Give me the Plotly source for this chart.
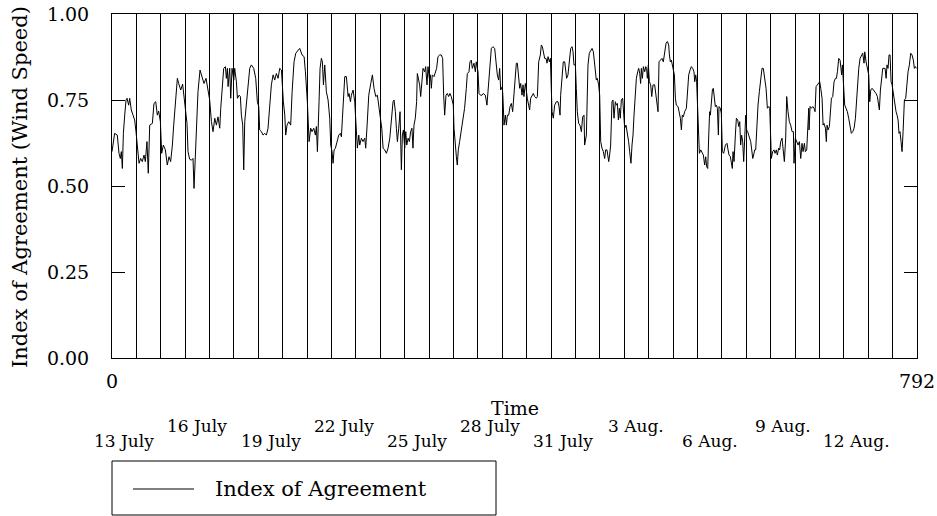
import plotly.graph_objects as go

# ---- data (hour since start, index of agreement) ----
hours = [0, 2.6, 5.2, 6.9, 8.2, 9.2, 10.2, 11.2, 12.5, 13.8, 14.8, 16.4, 17.4, 19.0, 20.7, 22.3, 23.6,
         24.9, 26.6, 28.2, 29.8, 31.5, 32.8, 34.4, 35.7, 37.1, 39.7, 41.3, 43.0, 44.6, 45.9, 47.6,
         48.9, 50.5, 52.5, 54.4, 56.1, 57.7, 59.4, 60.7, 62.6, 64.3, 65.6, 67.6, 69.5, 71.2,
         72.5, 73.8, 74.8, 76.4, 78.1, 79.7, 80.7, 82.0, 83.3, 84.6, 86.6, 88.6, 90.5, 92.5, 94.5,
         96.1, 97.8, 99.4, 101.1, 102.7, 104.3, 106.0, 107.0, 108.6, 109.9, 111.6, 112.5, 113.5,
         114.2, 115.8, 116.8, 118.1, 119.8, 120.7, 122.4, 123.4, 125.0, 126.3, 127.3, 128.6,
         129.6, 130.6, 131.9, 133.2, 135.5, 137.1, 139.4, 141.4, 143.0, 144.4, 145.3, 147.0,
         148.6, 150.3, 151.9, 153.5, 155.2, 156.8, 158.5, 160.1, 161.7, 163.4, 165.0, 166.7,
         168.6, 170.0, 170.9, 172.2, 173.9, 175.8, 177.2, 179.1, 180.8, 183.1, 184.7, 187.0,
         189.0, 190.3, 192.2, 193.9, 195.5, 196.8, 198.5, 200.1, 201.1, 202.1, 202.7, 203.7,
         204.7, 206.0, 207.0, 208.0, 209.3, 210.9, 212.6, 214.2, 215.2, 216.5, 217.5, 218.5,
         219.8, 221.4, 223.1, 224.7, 225.7, 226.7, 228.0, 229.0, 230.6, 232.3, 233.2, 234.6,
         235.5, 237.2, 238.8, 240.5, 241.4, 242.8, 243.7, 245.4, 247.0, 248.7, 249.6, 251.0,
         252.6, 254.6, 256.2, 257.8, 259.5, 261.1, 262.8, 264.4, 265.4, 266.7, 268.3, 270.0,
         271.6, 273.3, 274.9, 276.5, 277.5, 278.8, 279.8, 280.8, 282.1, 283.4, 284.7, 285.7,
         286.7, 288.0, 289.0, 290.0, 291.3, 292.6, 293.8, 295.1, 296.1, 297.1, 298.4, 299.7,
         300.4, 301.7, 302.7, 303.7, 305.0, 306.0, 307.6, 308.6, 309.9, 310.9, 312.2, 313.2,
         314.2, 315.1, 316.8, 318.1, 319.4, 320.7, 322.4, 324.0, 325.3, 326.3, 327.3, 328.6,
         329.9, 331.2, 332.5, 333.8, 334.8, 335.8, 336.5, 337.8, 338.8, 339.7, 340.7, 342.0,
         343.0, 344.3, 345.6, 346.9, 348.6, 349.6, 351.2, 352.2, 353.5, 354.5, 356.1, 357.5,
         358.4, 360.1, 361.1, 362.4, 364.0, 365.3, 367.3, 368.9, 369.9, 371.6, 373.2, 374.8,
         376.5, 377.8, 379.1, 380.4, 381.4, 382.4, 384.0, 384.7, 385.7, 387.0, 388.0, 389.0,
         390.3, 391.6, 392.9, 394.2, 395.2, 396.2, 397.8, 398.8, 400.1, 401.1, 402.1, 403.4,
         404.4, 405.3, 406.7, 407.6, 408.6, 409.9, 410.9, 411.9, 413.2, 414.5, 415.8, 417.5,
         418.5, 419.8, 421.4, 422.4, 423.4, 424.7, 425.7, 427.0, 428.0, 429.0, 430.3, 431.3,
         432.2, 432.9, 434.2, 435.5, 437.2, 438.8, 439.8, 440.8, 441.4, 442.7, 444.0, 445.4,
         446.3, 447.3, 448.6, 450.0, 451.3, 452.6, 453.6, 454.5, 455.9, 456.8, 457.8, 459.1,
         460.4, 461.8, 463.1, 464.4, 465.0, 466.7, 468.3, 469.6, 471.0, 472.3, 473.6, 474.9,
         476.5, 477.5, 478.8, 479.8, 480.8, 482.1, 483.4, 484.7, 485.7, 487.0, 488.0, 488.7,
         489.6, 490.6, 491.9, 492.9, 493.9, 495.2, 496.2, 497.2, 498.2, 499.2, 500.1, 501.1,
         502.4, 503.4, 504.4, 505.7, 507.0, 508.3, 509.3, 510.6, 511.6, 512.6, 513.6, 514.9,
         515.9, 517.2, 518.2, 519.2, 520.1, 520.8, 521.8, 522.8, 524.1, 525.1, 526.0, 526.7,
         527.7, 528.7, 530.0, 531.0, 532.3, 533.9, 534.9, 536.2, 537.2, 538.2, 539.5, 541.1,
         542.4, 543.8, 545.1, 546.4, 547.7, 548.4, 549.3, 550.3, 551.3, 552.3, 553.3, 554.3,
         555.2, 556.9, 557.9, 559.2, 560.2, 561.1, 562.1, 563.4, 565.1, 566.1, 567.4, 568.7,
         570.0, 571.3, 572.6, 573.3, 574.3, 575.2, 575.9, 576.9, 577.9, 579.2, 580.5, 581.8,
         583.1, 584.1, 585.1, 586.1, 587.1, 588.0, 588.7, 589.7, 590.7, 591.6, 592.6, 593.6,
         594.6, 595.6, 596.6, 597.2, 598.5, 599.5, 600.5, 601.8, 603.5, 605.1, 606.1, 607.1,
         608.4, 609.4, 610.3, 611.0, 612.0, 613.3, 614.3, 615.6, 616.6, 617.6, 618.5, 619.5,
         620.5, 621.5, 622.5, 623.5, 624.4, 625.4, 626.4, 627.4, 628.4, 629.4, 630.4, 631.3,
         632.3, 633.3, 634.3, 635.6, 636.9, 638.2, 639.5, 640.8, 642.2, 643.5, 644.8, 646.1,
         647.1, 648.1, 648.7, 650.0, 651.3, 652.3, 653.6, 654.6, 655.9, 656.9, 657.9, 659.2,
         660.5, 661.5, 662.8, 663.8, 665.1, 666.4, 667.7, 669.1, 670.4, 671.0, 672.3, 673.6,
         675.0, 676.3, 677.6, 678.9, 679.9, 681.2, 682.2, 683.5, 684.5, 685.5, 685.8, 686.8,
         688.1, 689.4, 690.7, 691.7, 692.7, 694.0, 695.3, 696.3, 697.3, 698.6, 699.6, 700.5,
         701.9, 702.8, 703.5, 704.5, 705.8, 706.8, 707.8, 709.1, 710.4, 711.7, 712.7, 713.7,
         715.0, 716.3, 717.3, 717.9, 718.6, 719.6, 720.9, 722.2, 723.5, 724.8, 726.1, 727.4,
         728.8, 730.1, 731.4, 732.4, 733.3, 734.7, 736.0, 737.3, 738.6, 739.9, 740.6, 741.9,
         743.2, 744.5, 745.5, 746.5, 747.8, 749.1, 750.4, 751.7, 753.0, 754.0, 755.0, 756.0,
         757.0, 758.3, 759.6, 760.6, 761.6, 762.5, 763.5, 764.5, 765.5, 766.5, 767.5, 768.8,
         770.1, 771.4, 772.4, 773.4, 774.3, 775.3, 776.3, 777.3, 778.3, 779.6, 780.9, 781.9,
         783.2, 784.5, 785.8, 787.1, 788.4, 789.4, 790.4, 791.4]

agreement = [0.600, 0.653, 0.648, 0.595, 0.580, 0.600, 0.551, 0.653, 0.706, 0.750, 0.755, 0.735, 0.755, 0.721, 0.706, 0.692, 0.658,
             0.619, 0.566, 0.580, 0.571, 0.590, 0.571, 0.629, 0.537, 0.677, 0.682, 0.740, 0.745, 0.706, 0.718, 0.687,
             0.595, 0.619, 0.605, 0.561, 0.585, 0.571, 0.619, 0.677, 0.755, 0.813, 0.798, 0.779, 0.796, 0.755,
             0.706, 0.682, 0.600, 0.578, 0.575, 0.580, 0.493, 0.575, 0.682, 0.774, 0.837, 0.813, 0.798, 0.813, 0.784,
             0.750, 0.687, 0.658, 0.697, 0.677, 0.701, 0.668, 0.726, 0.794, 0.842, 0.847, 0.813, 0.842,
             0.789, 0.842, 0.755, 0.842, 0.808, 0.842, 0.803, 0.755, 0.764, 0.760, 0.706, 0.677,
             0.547, 0.687, 0.735, 0.774, 0.842, 0.852, 0.842, 0.813, 0.745, 0.730, 0.663, 0.658,
             0.648, 0.653, 0.648, 0.668, 0.745, 0.794, 0.823, 0.808, 0.827, 0.813, 0.842, 0.837,
             0.745, 0.706, 0.648, 0.677, 0.687, 0.677, 0.774, 0.861, 0.886, 0.895, 0.900, 0.881,
             0.876, 0.832, 0.745, 0.629, 0.668, 0.658, 0.668, 0.648, 0.673, 0.600, 0.687, 0.745,
             0.842, 0.871, 0.861, 0.794, 0.852, 0.774, 0.750, 0.697, 0.619, 0.600, 0.566, 0.605,
             0.610, 0.629, 0.648, 0.653, 0.643, 0.697, 0.774, 0.818, 0.818, 0.760, 0.769, 0.745,
             0.764, 0.779, 0.745, 0.648, 0.610, 0.648, 0.619, 0.639, 0.629, 0.639, 0.610, 0.677,
             0.764, 0.798, 0.823, 0.784, 0.760, 0.764, 0.731, 0.697, 0.668, 0.610, 0.605, 0.595,
             0.610, 0.639, 0.697, 0.745, 0.750, 0.716, 0.668, 0.629, 0.668, 0.716, 0.547, 0.648,
             0.663, 0.610, 0.658, 0.619, 0.639, 0.629, 0.658, 0.668, 0.610, 0.677, 0.697, 0.745,
             0.827, 0.803, 0.794, 0.760, 0.823, 0.842, 0.832, 0.847, 0.794, 0.847, 0.813, 0.823,
             0.784, 0.823, 0.818, 0.832, 0.842, 0.876, 0.881, 0.881, 0.871, 0.764, 0.706, 0.764,
             0.769, 0.760, 0.769, 0.760, 0.745, 0.735, 0.668, 0.610, 0.585, 0.561, 0.605, 0.629,
             0.648, 0.673, 0.692, 0.726, 0.784, 0.827, 0.832, 0.861, 0.866, 0.842, 0.857, 0.832,
             0.861, 0.832, 0.769, 0.764, 0.764, 0.769, 0.764, 0.735, 0.774, 0.832, 0.900, 0.905,
             0.900, 0.861, 0.823, 0.808, 0.842, 0.779, 0.789, 0.755, 0.677, 0.706, 0.677, 0.706,
             0.706, 0.731, 0.740, 0.716, 0.764, 0.803, 0.857, 0.857, 0.813, 0.784, 0.798, 0.764,
             0.794, 0.760, 0.798, 0.774, 0.755, 0.735, 0.721, 0.755, 0.764, 0.769, 0.760, 0.755,
             0.760, 0.861, 0.881, 0.910, 0.905, 0.886, 0.871, 0.871, 0.857, 0.876, 0.861, 0.871,
             0.803, 0.716, 0.697, 0.735, 0.745, 0.745, 0.731, 0.706, 0.764, 0.813, 0.861, 0.861,
             0.837, 0.813, 0.823, 0.861, 0.900, 0.905, 0.890, 0.852, 0.852, 0.784, 0.716, 0.682,
             0.677, 0.658, 0.701, 0.706, 0.619, 0.648, 0.852, 0.886, 0.895, 0.900, 0.890, 0.857,
             0.808, 0.813, 0.794, 0.764, 0.629, 0.610, 0.600, 0.580, 0.605, 0.605, 0.580, 0.571,
             0.590, 0.619, 0.745, 0.750, 0.697, 0.745, 0.735, 0.740, 0.692, 0.726, 0.697, 0.750,
             0.755, 0.697, 0.668, 0.677, 0.658, 0.629, 0.600, 0.566, 0.619, 0.648, 0.706, 0.794,
             0.813, 0.832, 0.842, 0.827, 0.798, 0.842, 0.813, 0.847, 0.832, 0.847, 0.842, 0.813,
             0.852, 0.803, 0.794, 0.760, 0.794, 0.794, 0.774, 0.745, 0.716, 0.861, 0.866, 0.871,
             0.861, 0.895, 0.915, 0.920, 0.910, 0.881, 0.861, 0.866, 0.847, 0.842, 0.823, 0.755,
             0.735, 0.731, 0.716, 0.697, 0.663, 0.706, 0.701, 0.716, 0.726, 0.774, 0.823, 0.837,
             0.847, 0.842, 0.832, 0.803, 0.823, 0.803, 0.755, 0.658, 0.595, 0.605, 0.595, 0.590,
             0.561, 0.585, 0.556, 0.551, 0.648, 0.716, 0.706, 0.745, 0.779, 0.784, 0.764, 0.731,
             0.735, 0.726, 0.648, 0.731, 0.726, 0.711, 0.600, 0.595, 0.619, 0.624, 0.605, 0.590,
             0.585, 0.566, 0.551, 0.600, 0.571, 0.648, 0.697, 0.692, 0.673, 0.687, 0.619, 0.648,
             0.629, 0.571, 0.658, 0.706, 0.663, 0.658, 0.648, 0.639, 0.629, 0.605, 0.580, 0.590,
             0.605, 0.605, 0.687, 0.735, 0.774, 0.818, 0.842, 0.842, 0.803, 0.784, 0.726, 0.731,
             0.726, 0.648, 0.580, 0.600, 0.605, 0.595, 0.605, 0.590, 0.610, 0.605, 0.629, 0.639,
             0.610, 0.571, 0.639, 0.760, 0.716, 0.687, 0.677, 0.658, 0.658, 0.566, 0.639, 0.629,
             0.619, 0.629, 0.580, 0.624, 0.600, 0.624, 0.600, 0.605, 0.658, 0.726, 0.663, 0.731,
             0.726, 0.731, 0.726, 0.716, 0.789, 0.794, 0.798, 0.803, 0.784, 0.755, 0.677, 0.682,
             0.668, 0.629, 0.677, 0.663, 0.673, 0.716, 0.755, 0.760, 0.803, 0.813, 0.813, 0.832,
             0.871, 0.866, 0.847, 0.823, 0.852, 0.813, 0.735, 0.726, 0.716, 0.697, 0.677, 0.653,
             0.658, 0.668, 0.697, 0.745, 0.794, 0.842, 0.871, 0.881, 0.886, 0.857, 0.890, 0.861,
             0.837, 0.823, 0.745, 0.779, 0.784, 0.779, 0.774, 0.769, 0.760, 0.745, 0.721, 0.779,
             0.803, 0.842, 0.842, 0.842, 0.813, 0.852, 0.842, 0.881, 0.881, 0.803, 0.794, 0.764,
             0.750, 0.716, 0.706, 0.692, 0.653, 0.658, 0.629, 0.600, 0.658, 0.750, 0.755, 0.803,
             0.832, 0.852, 0.886, 0.881, 0.866, 0.842, 0.847, 0.842]

total_hours = 792
day_hours = 24
x_tick_vals = list(range(0, total_hours + 1, day_hours))
x_tick_text = ["0"] + [""] * (len(x_tick_vals) - 2) + [str(total_hours)]

y_tick_vals = [0, 0.25, 0.5, 0.75, 1.0]
y_tick_text = ["0.00", "0.25", "0.50", "0.75", "1.00"]

date_labels = ["13 July", "16 July", "19 July", "22 July", "25 July", "28 July",
               "31 July", "3 Aug.", "6 Aug.", "9 Aug.", "12 Aug."]
date_label_hours = [12, 84, 156, 228, 300, 372, 444, 516, 588, 660, 732]

series_name = "Index of Agreement"

FONT = "DejaVu Serif"

fig = go.Figure()
fig.add_trace(go.Scatter(x=hours, y=agreement, mode="lines", name=series_name,
                         line=dict(color="black", width=1), showlegend=False))

fig.update_layout(
    width=937, height=516,
    margin=dict(l=112, r=20, t=14, b=158, autoexpand=False),
    paper_bgcolor="white", plot_bgcolor="white",
    font=dict(family=FONT, color="black", size=16),
    xaxis=dict(range=[0, total_hours], tickmode="array", tickvals=x_tick_vals, ticktext=x_tick_text,
               showgrid=True, gridcolor="black", gridwidth=1, zeroline=False,
               showline=True, linecolor="black", linewidth=1, mirror=True, automargin=False,
               ticks="", tickfont=dict(size=19, family=FONT), ticklabelstandoff=6,
               ticklabeloverflow="allow"),
    yaxis=dict(range=[0, 1], tickmode="array", tickvals=y_tick_vals, ticktext=y_tick_text,
               showgrid=False, zeroline=False, automargin=False,
               showline=True, linecolor="black", linewidth=1, mirror="ticks",
               ticks="inside", ticklen=13, tickcolor="black",
               tickfont=dict(size=19, family=FONT), ticklabelstandoff=18,
               ticklabeloverflow="allow"),
)

W = 805.0
H = 344.0
def px_x(px):
    return (px - 112) / W
def px_y(py):
    return (358 - py) / H

annotations = []
annotations.append(dict(text="Index of Agreement (Wind Speed)", textangle=-90,
                        xref="paper", yref="paper", x=px_x(20), y=px_y(187),
                        xanchor="center", yanchor="middle", showarrow=False,
                        font=dict(size=21, family=FONT)))
annotations.append(dict(text="Time", xref="paper", yref="paper", x=px_x(515), y=px_y(408),
                        xanchor="center", yanchor="middle", showarrow=False,
                        font=dict(size=19, family=FONT)))
for i, (lab, h) in enumerate(zip(date_labels, date_label_hours)):
    py = 441 if i % 2 == 0 else 426
    annotations.append(dict(text=lab, xref="x", yref="paper", x=h, y=px_y(py),
                            xanchor="center", yanchor="middle", showarrow=False,
                            font=dict(size=17, family=FONT)))
# manual legend
annotations.append(dict(text=series_name, xref="paper", yref="paper", x=px_x(213), y=px_y(489),
                        xanchor="left", yanchor="middle", showarrow=False,
                        font=dict(size=21, family=FONT)))
fig.update_layout(annotations=annotations)

fig.add_shape(type="rect", xref="paper", yref="paper", x0=px_x(112), x1=px_x(496),
              y0=px_y(461), y1=px_y(515), line=dict(color="black", width=1), fillcolor="rgba(0,0,0,0)")
fig.add_shape(type="line", xref="paper", yref="paper", x0=px_x(133), x1=px_x(194),
              y0=px_y(489), y1=px_y(489), line=dict(color="black", width=1))

# remove the default page margin so the figure sits at the window's top-left corner
fig.write_html("out.html", config={"displayModeBar": False},
               post_script="document.body.style.margin='0';document.body.style.overflow='hidden';")
